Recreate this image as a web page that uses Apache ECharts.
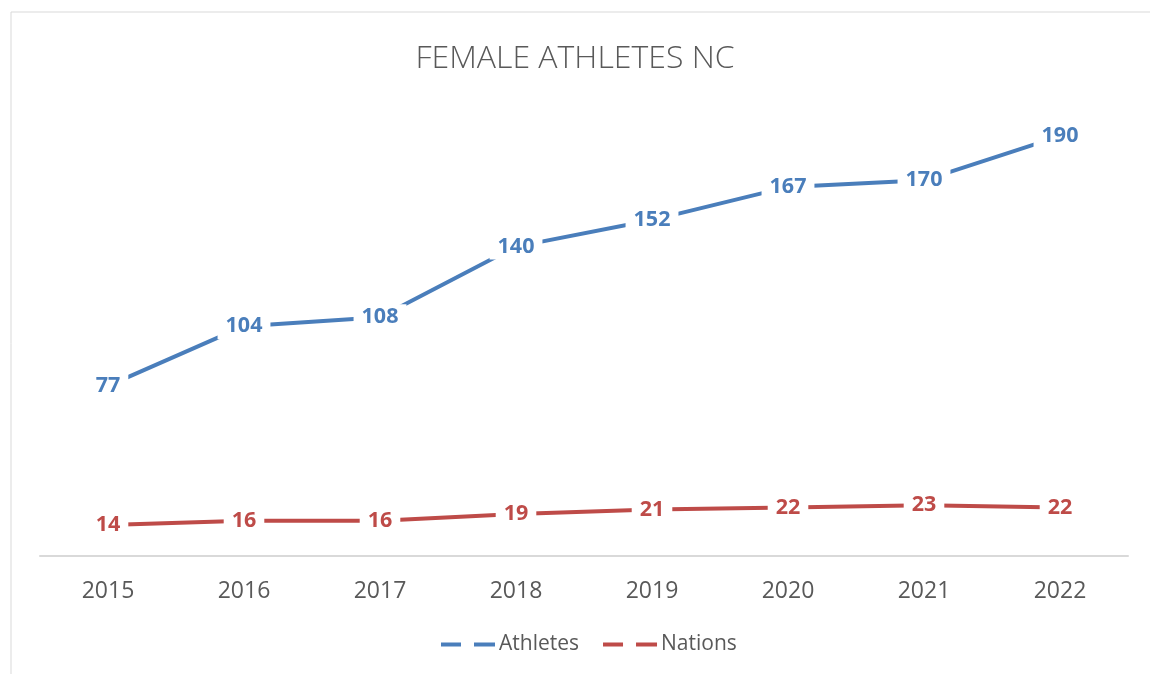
<!DOCTYPE html>
<html>
<head>
<meta charset="utf-8">
<script src="https://cdn.jsdelivr.net/npm/echarts@6/dist/echarts.min.js"></script>
<style>
  html, body { margin: 0; padding: 0; background: #fff; }
  #chart { width: 1150px; height: 674px; }
</style>
</head>
<body>
<div id="chart"></div>
<script>
const years = ['2015', '2016', '2017', '2018', '2019', '2020', '2021', '2022'];
const athletes = [77, 104, 108, 140, 152, 167, 170, 190];
const nations = [14, 16, 16, 19, 21, 22, 23, 22];

const blue = '#4a7ebb';
const red = '#be4b48';
// dashed legend icon, like the Excel legend key
const dashIcon = 'path://M0,0H20V4H0Z M33,0H54V4H33Z';

const chart = echarts.init(document.getElementById('chart'));

const labelStyle = (color) => ({
  show: true,
  position: 'inside',
  color: color,
  fontFamily: 'Open Sans',
  fontWeight: 'bold',
  fontSize: 21.5,
  backgroundColor: '#fff',
  padding: [2, 8]
});

chart.setOption({
  animation: false,
  graphic: [{
    type: 'rect',
    shape: { x: 11, y: 12, width: 1200, height: 700 },
    style: { fill: 'none', stroke: '#d9d9d9', lineWidth: 1 },
    silent: true
  }],
  title: {
    text: 'FEMALE ATHLETES NC',
    left: 'center',
    top: 38,
    textStyle: {
      color: '#595959',
      fontFamily: 'Open Sans',
      fontWeight: 300,
      fontSize: 32
    }
  },
  legend: {
    bottom: 14,
    left: 436,
    itemWidth: 54,
    itemHeight: 4,
    itemGap: 24,
    textStyle: { color: '#595959', fontFamily: 'Open Sans', fontSize: 21, padding: [0, 0, 0, -1] },
    data: [
      { name: 'Athletes', icon: dashIcon },
      { name: 'Nations', icon: dashIcon }
    ]
  },
  grid: {
    left: 40,
    right: 22,
    top: 114,
    bottom: 118
  },
  xAxis: {
    type: 'category',
    data: years,
    boundaryGap: true,
    axisLine: { lineStyle: { color: '#d9d9d9', width: 2 } },
    axisTick: { show: false },
    axisLabel: {
      color: '#595959',
      fontFamily: 'Open Sans',
      fontSize: 23,
      margin: 24
    }
  },
  yAxis: {
    type: 'value',
    min: 0,
    max: 200,
    show: false,
    splitLine: { show: false }
  },
  series: [
    {
      name: 'Athletes',
      type: 'line',
      data: athletes,
      symbol: 'circle',
      symbolSize: 1,
      itemStyle: { color: blue },
      lineStyle: { color: blue, width: 4 },
      label: labelStyle(blue)
    },
    {
      name: 'Nations',
      type: 'line',
      data: nations,
      symbol: 'circle',
      symbolSize: 1,
      itemStyle: { color: red },
      lineStyle: { color: red, width: 4 },
      label: labelStyle(red)
    }
  ]
});
</script>
</body>
</html>
